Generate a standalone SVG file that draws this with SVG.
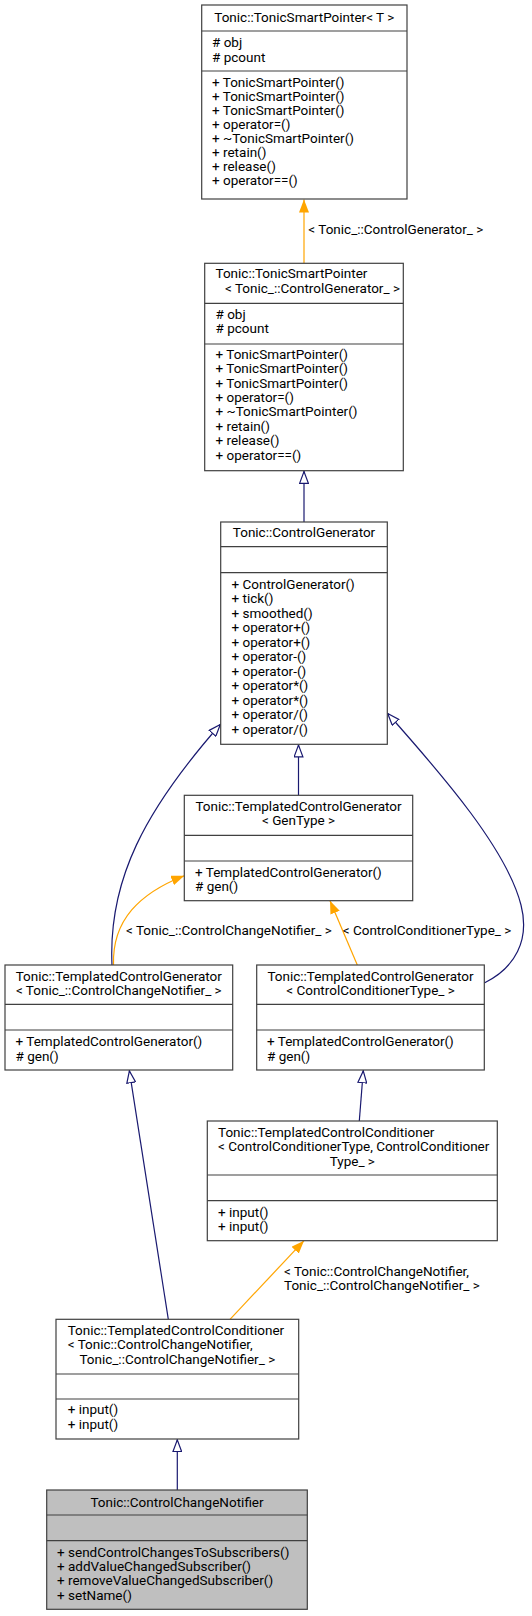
<svg xmlns="http://www.w3.org/2000/svg" width="532" height="1616" viewBox="0 0 532 1616">
<style>
text{font-family:Roboto,"Liberation Sans",sans-serif;font-size:13.5px;fill:#000}
.c{text-anchor:middle}
.box{fill:#fff;stroke:#404040;stroke-width:1.2}
.cur{fill:#bfbfbf}
.sep{stroke:#404040;stroke-width:1.2}
.inh{fill:none;stroke:#191970;stroke-width:1.2}
.tpl{fill:none;stroke:#ffa500;stroke-width:1.2}
</style>
<defs>
<marker id="ao" viewBox="0 0 13 10" refX="13" refY="5" markerWidth="13" markerHeight="10" markerUnits="userSpaceOnUse" orient="auto"><path d="M0.6,0.6 L12.4,5 L0.6,9.4 z" fill="#fff" stroke="#191970" stroke-width="1.2"/></marker>
<marker id="af" viewBox="0 0 13 10" refX="13" refY="5" markerWidth="13" markerHeight="10" markerUnits="userSpaceOnUse" orient="auto"><path d="M0,0 L13,5 L0,10 z" fill="#ffa500"/></marker>
</defs>
<g id="connectors">
<path class="tpl" d="M304,263.3 L304,199.5" marker-end="url(#af)"/>
<text x="308.3" y="234.3">&lt; Tonic_::ControlGenerator_ &gt;</text>
<path class="inh" d="M304,522 L304,471" marker-end="url(#ao)"/>
<path class="inh" d="M298.5,795.3 L298.5,744.5" marker-end="url(#ao)"/>
<path class="inh" d="M112,965 C108,880 145,810 220.7,724" marker-end="url(#ao)"/>
<path class="inh" d="M484.3,983 C515,968 530,940 521,905 C507,850 445,778 387.3,713" marker-end="url(#ao)"/>
<path class="tpl" d="M113.5,965 C112,920 140,893 184.3,875.7" marker-end="url(#af)"/>
<text x="126" y="935">&lt; Tonic_::ControlChangeNotifier_ &gt;</text>
<path class="tpl" d="M357.3,965 L330,900.7" marker-end="url(#af)"/>
<text x="342.7" y="935">&lt; ControlConditionerType_ &gt;</text>
<path class="inh" d="M359.3,1121 L363.3,1070.3" marker-end="url(#ao)"/>
<path class="inh" d="M168.3,1319.3 L129.3,1070.3" marker-end="url(#ao)"/>
<path class="tpl" d="M230,1319.3 L304,1240.7" marker-end="url(#af)"/>
<text x="284" y="1276">&lt; Tonic::ControlChangeNotifier,</text>
<text x="284" y="1290">Tonic_::ControlChangeNotifier_ &gt;</text>
<path class="inh" d="M177.3,1490 L177.3,1439.3" marker-end="url(#ao)"/>
</g>
<g id="n1">
<rect class="box" x="201.7" y="5" width="205.3" height="194"/>
<line class="sep" x1="201.7" y1="31" x2="407" y2="31"/>
<line class="sep" x1="201.7" y1="71" x2="407" y2="71"/>
<text class="c" x="304.3" y="22">Tonic::TonicSmartPointer&lt; T &gt;</text>
<text x="212" y="47"># obj</text>
<text x="212" y="61.5"># pcount</text>
<text x="212" y="86.7">+ TonicSmartPointer()</text>
<text x="212" y="100.7">+ TonicSmartPointer()</text>
<text x="212" y="114.7">+ TonicSmartPointer()</text>
<text x="212" y="128.7">+ operator=()</text>
<text x="212" y="142.7">+ ~TonicSmartPointer()</text>
<text x="212" y="156.7">+ retain()</text>
<text x="212" y="170.7">+ release()</text>
<text x="212" y="184.7">+ operator==()</text>
</g>
<g id="n2">
<rect class="box" x="204.7" y="263.3" width="198.6" height="207.4"/>
<line class="sep" x1="204.7" y1="303.3" x2="403.3" y2="303.3"/>
<line class="sep" x1="204.7" y1="344" x2="403.3" y2="344"/>
<text x="215.5" y="278.3">Tonic::TonicSmartPointer</text>
<text x="225" y="293.3">&lt; Tonic_::ControlGenerator_ &gt;</text>
<text x="215.5" y="319"># obj</text>
<text x="215.5" y="333.3"># pcount</text>
<text x="215.5" y="358.7">+ TonicSmartPointer()</text>
<text x="215.5" y="373.1">+ TonicSmartPointer()</text>
<text x="215.5" y="387.5">+ TonicSmartPointer()</text>
<text x="215.5" y="401.9">+ operator=()</text>
<text x="215.5" y="416.3">+ ~TonicSmartPointer()</text>
<text x="215.5" y="430.7">+ retain()</text>
<text x="215.5" y="445.1">+ release()</text>
<text x="215.5" y="459.5">+ operator==()</text>
</g>
<g id="n3">
<rect class="box" x="220.7" y="522" width="166.6" height="222.3"/>
<line class="sep" x1="220.7" y1="546.7" x2="387.3" y2="546.7"/>
<line class="sep" x1="220.7" y1="572.7" x2="387.3" y2="572.7"/>
<text class="c" x="304" y="537.3">Tonic::ControlGenerator</text>
<text x="231.5" y="588.7">+ ControlGenerator()</text>
<text x="231.5" y="603.2">+ tick()</text>
<text x="231.5" y="617.7">+ smoothed()</text>
<text x="231.5" y="632.2">+ operator+()</text>
<text x="231.5" y="646.7">+ operator+()</text>
<text x="231.5" y="661.2">+ operator-()</text>
<text x="231.5" y="675.7">+ operator-()</text>
<text x="231.5" y="690.2">+ operator*()</text>
<text x="231.5" y="704.7">+ operator*()</text>
<text x="231.5" y="719.2">+ operator/()</text>
<text x="231.5" y="733.7">+ operator/()</text>
</g>
<g id="n4">
<rect class="box" x="184.3" y="795.3" width="228.4" height="105.4"/>
<line class="sep" x1="184.3" y1="835.3" x2="412.7" y2="835.3"/>
<line class="sep" x1="184.3" y1="861" x2="412.7" y2="861"/>
<text class="c" x="298.5" y="810.7">Tonic::TemplatedControlGenerator</text>
<text class="c" x="298.5" y="825.3">&lt; GenType &gt;</text>
<text x="195" y="876.7">+ TemplatedControlGenerator()</text>
<text x="195" y="890.5"># gen()</text>
</g>
<g id="n5">
<rect class="box" x="5" y="965" width="227.7" height="105"/>
<line class="sep" x1="5" y1="1004.3" x2="232.7" y2="1004.3"/>
<line class="sep" x1="5" y1="1030" x2="232.7" y2="1030"/>
<text class="c" x="118.8" y="980.7">Tonic::TemplatedControlGenerator</text>
<text class="c" x="118.8" y="994.7">&lt; Tonic_::ControlChangeNotifier_ &gt;</text>
<text x="15.5" y="1045.7">+ TemplatedControlGenerator()</text>
<text x="15.5" y="1060.7"># gen()</text>
</g>
<g id="n6">
<rect class="box" x="256.7" y="965" width="227.6" height="105"/>
<line class="sep" x1="256.7" y1="1004.3" x2="484.3" y2="1004.3"/>
<line class="sep" x1="256.7" y1="1030" x2="484.3" y2="1030"/>
<text class="c" x="370.5" y="980.7">Tonic::TemplatedControlGenerator</text>
<text class="c" x="370.5" y="994.7">&lt; ControlConditionerType_ &gt;</text>
<text x="267" y="1045.7">+ TemplatedControlGenerator()</text>
<text x="267" y="1060.7"># gen()</text>
</g>
<g id="n7">
<rect class="box" x="207.3" y="1121" width="290" height="119.7"/>
<line class="sep" x1="207.3" y1="1175" x2="497.3" y2="1175"/>
<line class="sep" x1="207.3" y1="1200.7" x2="497.3" y2="1200.7"/>
<text x="218" y="1136.7">Tonic::TemplatedControlConditioner</text>
<text x="218" y="1150.7">&lt; ControlConditionerType, ControlConditioner</text>
<text class="c" x="352.3" y="1166">Type_ &gt;</text>
<text x="218" y="1216.7">+ input()</text>
<text x="218" y="1230.7">+ input()</text>
</g>
<g id="n8">
<rect class="box" x="56" y="1319.3" width="242.7" height="119.7"/>
<line class="sep" x1="56" y1="1374" x2="298.7" y2="1374"/>
<line class="sep" x1="56" y1="1399" x2="298.7" y2="1399"/>
<text x="67.7" y="1334.7">Tonic::TemplatedControlConditioner</text>
<text x="67.7" y="1349.3">&lt; Tonic::ControlChangeNotifier,</text>
<text class="c" x="177.3" y="1364">Tonic_::ControlChangeNotifier_ &gt;</text>
<text x="67.7" y="1414.3">+ input()</text>
<text x="67.7" y="1429.3">+ input()</text>
</g>
<g id="n9">
<rect class="box cur" x="46.7" y="1490" width="260.6" height="119.3"/>
<line class="sep" x1="46.7" y1="1515" x2="307.3" y2="1515"/>
<line class="sep" x1="46.7" y1="1540.7" x2="307.3" y2="1540.7"/>
<text class="c" x="177" y="1506.7">Tonic::ControlChangeNotifier</text>
<text x="57" y="1556.7">+ sendControlChangesToSubscribers()</text>
<text x="57" y="1571">+ addValueChangedSubscriber()</text>
<text x="57" y="1585.3">+ removeValueChangedSubscriber()</text>
<text x="57" y="1599.7">+ setName()</text>
</g>
</svg>
